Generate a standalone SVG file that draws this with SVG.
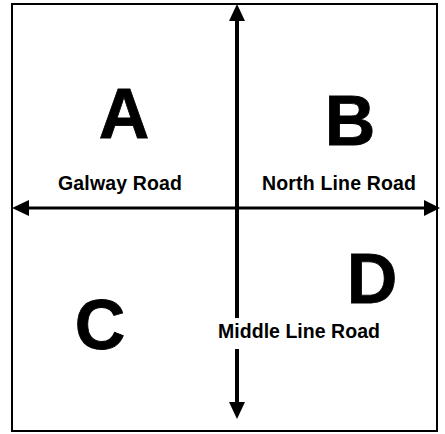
<svg xmlns="http://www.w3.org/2000/svg" width="445" height="434" viewBox="0 0 445 434">
<style>
.big{font-family:"Liberation Sans",Arial,sans-serif;font-weight:bold;font-size:70px;fill:#000;stroke:#000;stroke-width:0.8;text-anchor:middle}
.lbl{font-family:"Liberation Sans",Arial,sans-serif;font-weight:bold;font-size:19.5px;fill:#000;text-anchor:middle}
</style>
<rect width="445" height="434" fill="#fff"/>
<g id="frame"><rect x="12" y="4" width="425" height="427" fill="none" stroke="#000" stroke-width="2"/></g>
<g id="connectors" fill="#000">
<line x1="237" y1="18" x2="237" y2="318" stroke="#000" stroke-width="4"/>
<line x1="237" y1="349" x2="237" y2="405" stroke="#000" stroke-width="4"/>
<polygon points="237,4 229,21 245,21"/>
<polygon points="237,419 229,402 245,402"/>
<line x1="25" y1="208" x2="428" y2="208" stroke="#000" stroke-width="3"/>
<polygon points="12,208 29,200 29,216"/>
<polygon points="440,208 424,200 424,216"/>
</g>
<g id="A"><text class="big" x="124" y="138">A</text><text class="lbl" x="120" y="190" textLength="124" lengthAdjust="spacing">Galway Road</text></g>
<g id="B"><text class="big" x="350" y="145">B</text><text class="lbl" x="339" y="190" textLength="154" lengthAdjust="spacing">North Line Road</text></g>
<g id="C"><text class="big" x="100" y="349">C</text></g>
<g id="D"><text class="big" x="372" y="303">D</text><text class="lbl" x="299" y="338" textLength="162" lengthAdjust="spacing">Middle Line Road</text></g>
</svg>
